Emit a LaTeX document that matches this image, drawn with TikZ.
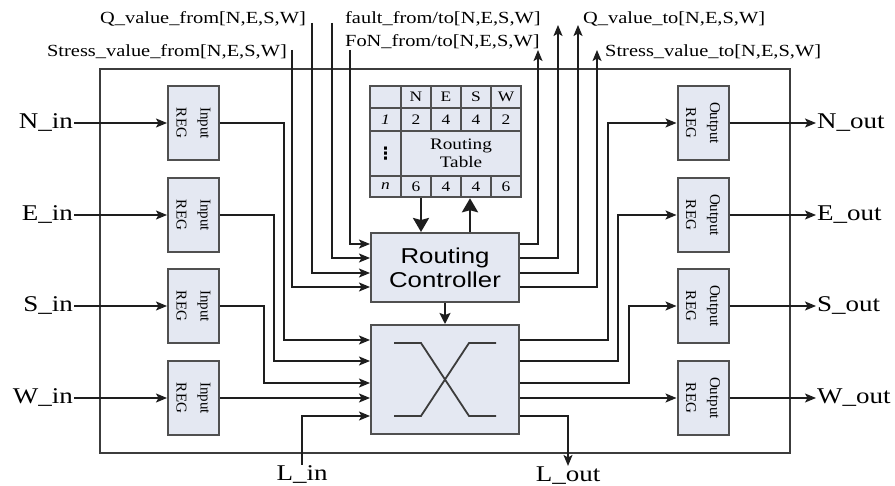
\documentclass[tikz,border=0pt]{standalone}
\usepackage{fontspec}
\usepackage{graphicx}
\setmainfont[FakeStretch=1.2]{Liberation Serif}
\setsansfont[FakeStretch=1.2]{Liberation Sans}
\newfontfamily\regfont{Liberation Serif}
\newfontfamily\symfont{DejaVu Sans}
\usetikzlibrary{arrows.meta,calc}
\definecolor{boxfill}{HTML}{E4E8F2}
\definecolor{boxline}{HTML}{505050}
\definecolor{wirecolor}{HTML}{1E1E1E}
\definecolor{framecolor}{HTML}{3C3C3C}
\newcommand{\reglab}[1]{\rotatebox{-90}{\regfont\fontsize{15}{24}\selectfont\begin{tabular}{@{}c@{}}#1\\REG\end{tabular}}}

\begin{document}
\begin{tikzpicture}[x=1pt, y=-1pt,
  wire/.style={draw=wirecolor, line width=1.5pt},
  sig/.style={wire, -{Stealth[length=11pt,width=9pt,inset=2.5pt]}},
  bigsig/.style={draw=wirecolor, line width=2.6pt, -{Stealth[length=14pt,width=16pt,inset=2pt]}},
  midsig/.style={draw=wirecolor, line width=2pt, -{Stealth[length=11pt,width=11pt,inset=2pt]}},
  regbox/.style={draw=boxline, fill=boxfill, line width=2pt, minimum width=51pt, minimum height=74pt, inner sep=0pt},
  blockbox/.style={draw=boxline, fill=boxfill, line width=2pt, inner sep=0pt},
  gridline/.style={draw=boxline, line width=1.5pt},
  xline/.style={draw=framecolor, line width=1.8pt},
  portlabel/.style={font=\fontsize{22.5}{26}\selectfont, inner sep=1pt},
  buslabel/.style={font=\fontsize{17}{20}\selectfont, inner sep=0pt},
  cell/.style={font=\fontsize{14.5}{16}\selectfont, inner sep=0pt}]

  \useasboundingbox (0,0) rectangle (895,486);

  % Router frame
  \node[draw=framecolor, line width=1.5pt, minimum width=690pt, minimum height=384pt, inner sep=0pt] (router) at (445,261) {};

  % Input / output registers and port labels
  \foreach \d/\y in {N/123,E/215,S/306,W/398} {
    \node[regbox] (in\d) at (193.5,\y) {\reglab{Input}};
    \node[regbox] (out\d) at (703,\y) {\reglab{Output}};
    \node[portlabel, anchor=east] (portin\d) at (74,\y) {\d\_in};
    \node[portlabel, anchor=west] (portout\d) at (816,\y) {\d\_out};
    \draw[sig] (portin\d) -- (in\d);
    \draw[sig] (out\d) -- (portout\d);
  }

  % Routing table
  \node[blockbox, line width=2.5pt, minimum width=151pt, minimum height=111pt] (rt) at (445.5,141.5) {};
  \draw[gridline] (401,86) -- (401,197);
  \foreach \x in {431,461,491} {
    \draw[gridline] (\x,86) -- (\x,131);
    \draw[gridline] (\x,176) -- (\x,197);
  }
  \foreach \y in {108,131,176} \draw[gridline] (370,\y) -- (521,\y);
  \foreach \t [count=\i] in {N,E,S,W} \node[cell] (hd\i) at ({386+30*\i},97) {\t};
  \foreach \t [count=\i] in {2,4,4,2} \node[cell] (ra\i) at ({386+30*\i},119.5) {\t};
  \foreach \t [count=\i] in {6,4,4,6} \node[cell] (rn\i) at ({386+30*\i},186.5) {\t};
  \node[cell] (rione) at (385.5,119.5) {\textit{1}};
  \node[cell, font=\symfont\bfseries\fontsize{17}{18}\selectfont] (ridots) at (385.5,153.5) {⋮};
  \node[cell] (rin) at (385.5,186.5) {\textit{n}};
  \node[cell, align=center, font=\fontsize{16}{18}\selectfont] (rtname) at (461,153.5) {Routing\\Table};

  % Routing controller and crossbar
  \node[blockbox, minimum width=148pt, minimum height=69pt, align=center,
        font=\sffamily\fontsize{21.5}{24}\selectfont] (rc) at (445,267.5) {Routing\\Controller};
  \node[blockbox, minimum width=148pt, minimum height=109pt] (xbar) at (445,379.5) {};
  \begin{scope}[shift={(xbar.center)}]
    \draw[xline] (-51,-36.5) -- (-24,-36.5) -- (24,36.5) -- (51,36.5);
    \draw[xline] (-51,36.5) -- (-24,36.5) -- (24,-36.5) -- (51,-36.5);
  \end{scope}

  \draw[bigsig] (rt.south -| 421,0) -- (rc.north -| 421,0);
  \draw[bigsig] (rc.north -| 470,0) -- (rt.south -| 470,0);
  \draw[midsig] (rc.south) -- (xbar.north);

  % Controller ports
  \foreach \i/\y in {1/244,2/258,3/273,4/287} {
    \coordinate (rcw\i) at (rc.west |- 0,\y);
    \coordinate (rce\i) at (rc.east |- 0,\y);
  }
  % Crossbar ports
  \foreach \i/\y in {1/340,2/361,3/383,4/398,5/416} {
    \coordinate (xi\i) at (xbar.west |- 0,\y);
    \coordinate (xo\i) at (xbar.east |- 0,\y);
  }

  % Status signals into the controller
  \node[buslabel, anchor=east] (qfromlab) at (306,19) {Q\_value\_from[N,E,S,W]};
  \node[buslabel, anchor=east] (sfromlab) at (287,52) {Stress\_value\_from[N,E,S,W]};
  \node[buslabel, anchor=west] (faultlab) at (345,19) {fault\_from/to[N,E,S,W]};
  \node[buslabel, anchor=west] (fonlab) at (345,42) {FoN\_from/to[N,E,S,W]};
  \coordinate (fonin) at (350,50);
  \coordinate (faultin) at (332,23);
  \coordinate (qin) at (312,23);
  \coordinate (stressin) at (292,50);
  \draw[sig] (fonin) |- (rcw1);
  \draw[sig] (faultin) |- (rcw2);
  \draw[sig] (qin) |- (rcw3);
  \draw[sig] (stressin) |- (rcw4);

  % Status signals out of the controller
  \node[buslabel, anchor=west] (qtolab) at (583,19) {Q\_value\_to[N,E,S,W]};
  \node[buslabel, anchor=west] (stolab) at (605,52) {Stress\_value\_to[N,E,S,W]};
  \coordinate (fonout) at (538,50);
  \coordinate (faultout) at (558,25);
  \coordinate (qout) at (578,25);
  \coordinate (stressout) at (597,50);
  \draw[sig] (rce1) -| (fonout);
  \draw[sig] (rce2) -| (faultout);
  \draw[sig] (rce3) -| (qout);
  \draw[sig] (rce4) -| (stressout);

  % Crossbar inputs
  \foreach \r/\i/\dx in {inN/1/64, inE/2/54, inS/3/44}
    \draw[sig] (\r.east) -- ++(\dx,0) |- (xi\i);
  \draw[sig] (inW) -- (xi4);
  \node[portlabel] (lin) at (302,475) {L\_in};
  \draw[sig] (lin) |- (xi5);

  % Crossbar outputs
  \foreach \i/\r/\dx in {1/outN/88, 2/outE/98, 3/outS/109}
    \draw[sig] (xo\i) -- ++(\dx,0) |- (\r.west);
  \draw[sig] (xo4) -- (outW);
  \node[portlabel] (lout) at (568,476) {L\_out};
  \draw[sig] (xo5) -| (lout);

\end{tikzpicture}
\end{document}
